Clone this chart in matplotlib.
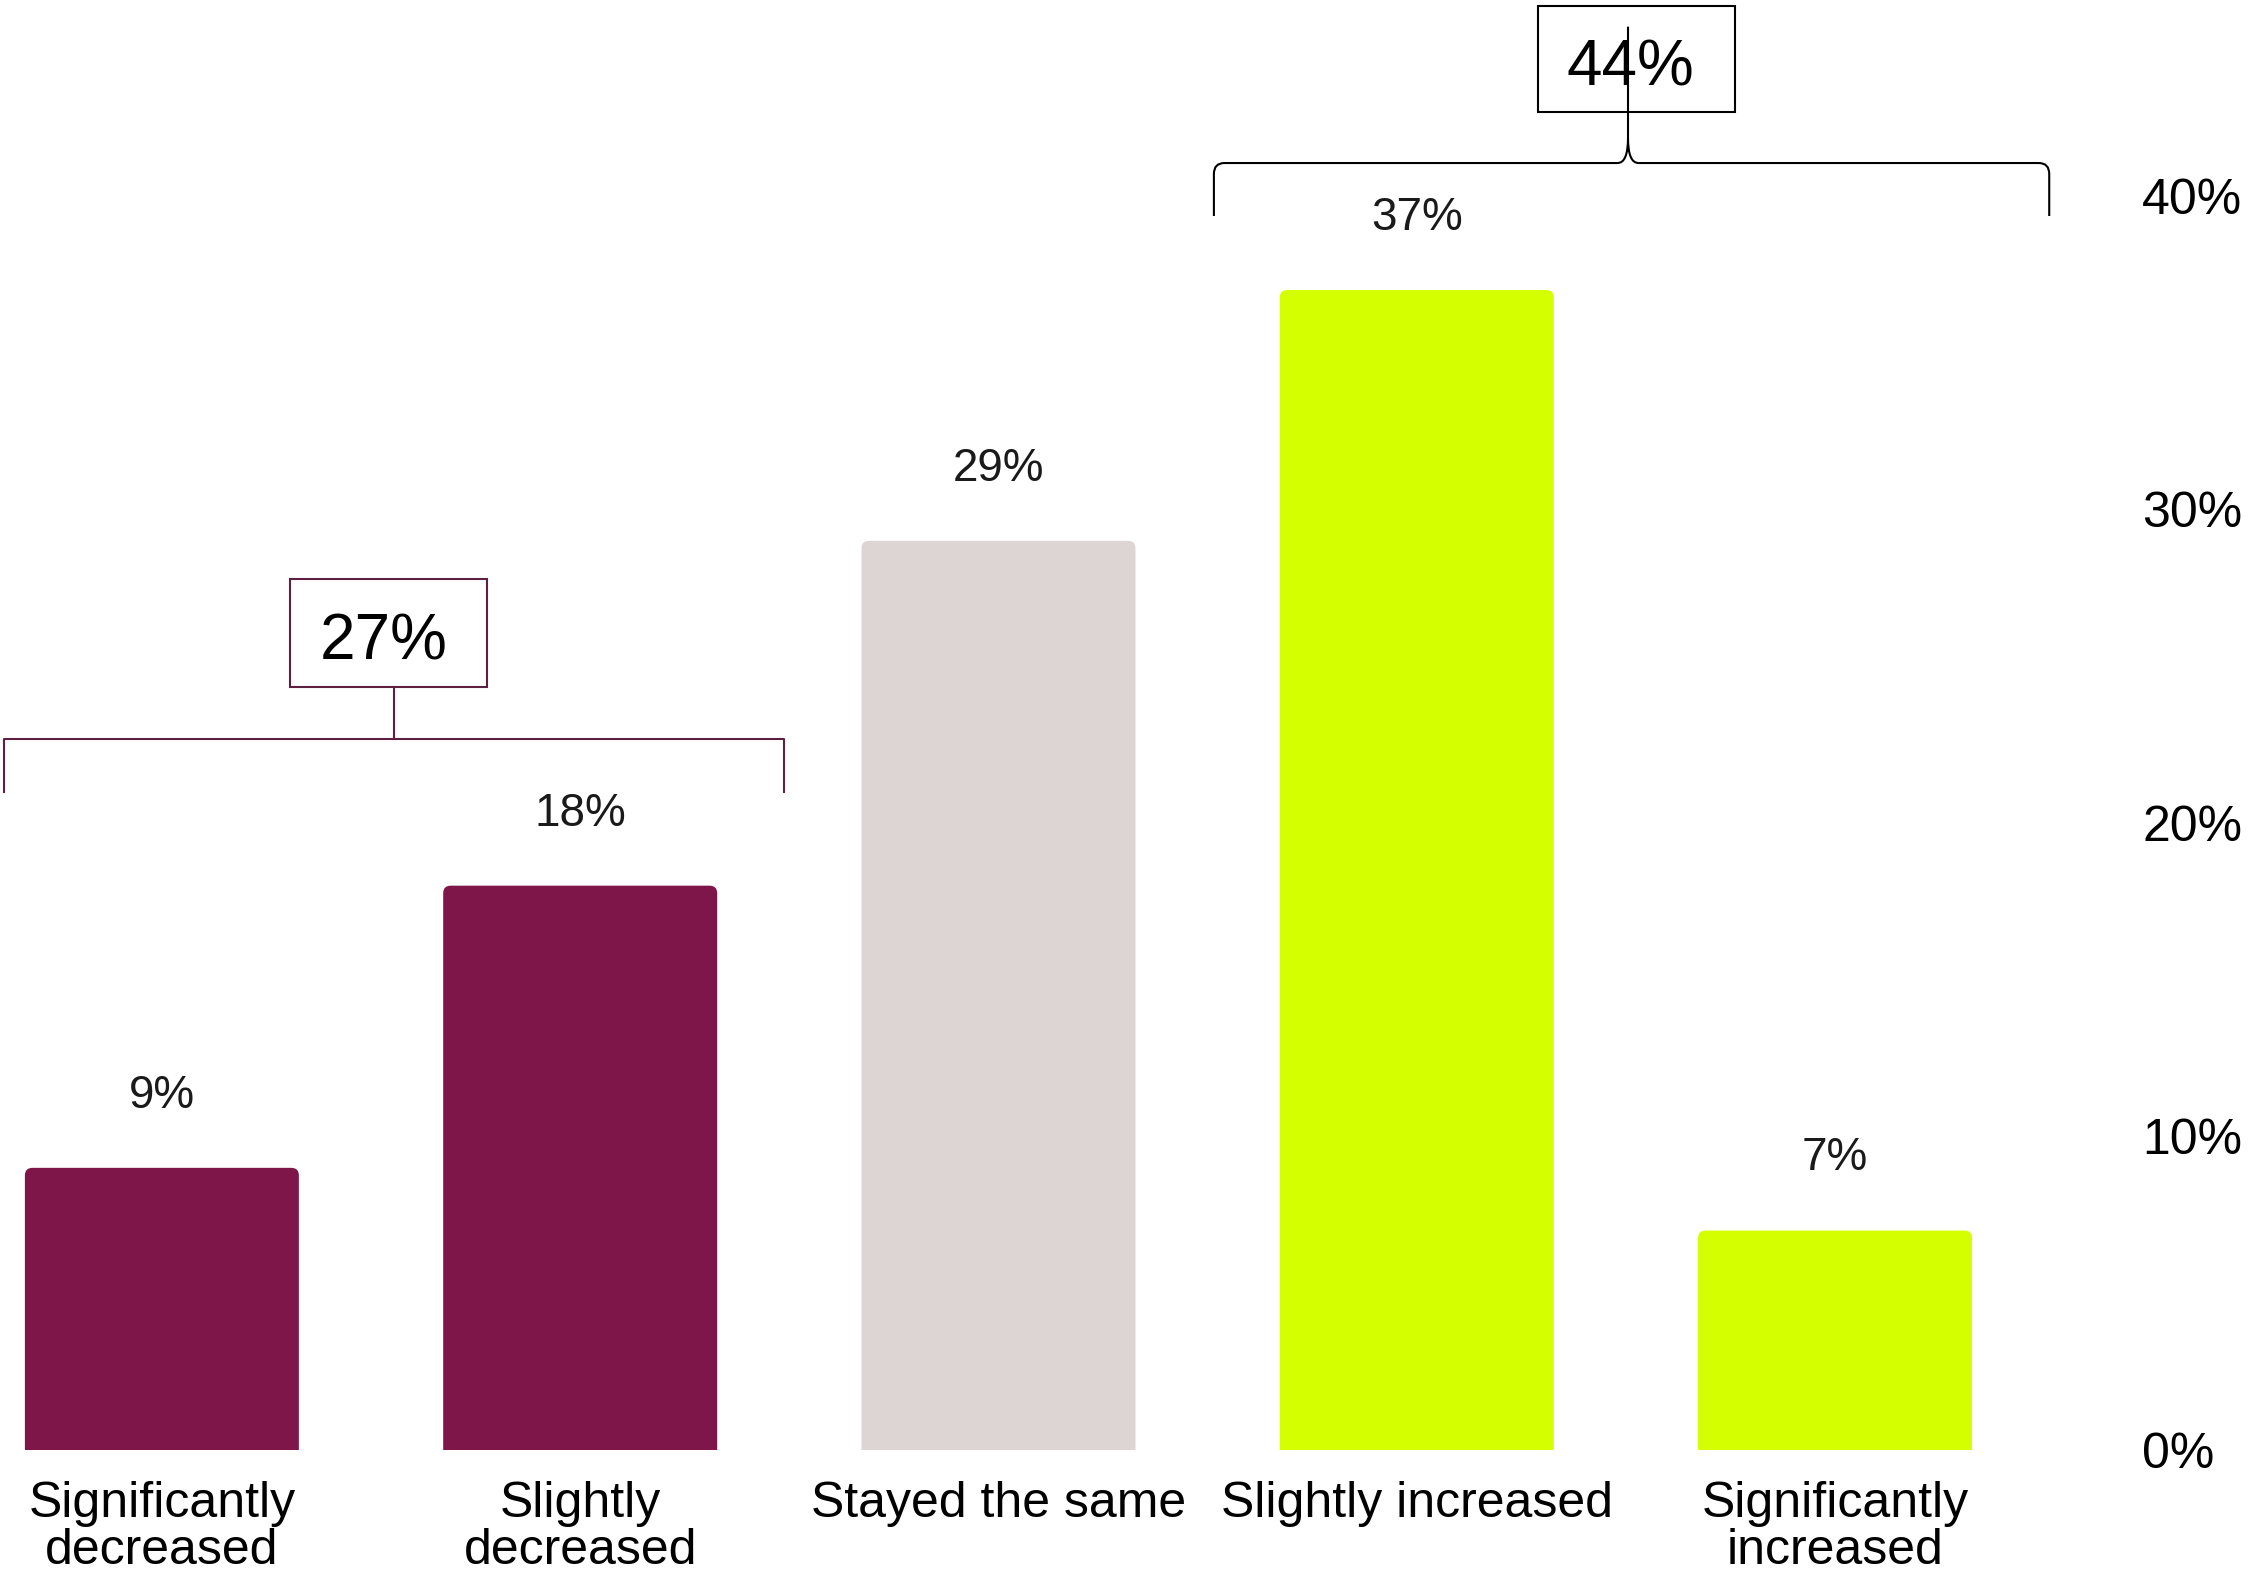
import matplotlib.pyplot as plt
from matplotlib.patches import Rectangle, PathPatch, FancyBboxPatch
from matplotlib.path import Path

plt.rcParams['font.family'] = ['Liberation Sans', 'DejaVu Sans']

# Data
categories = ["Significantly\ndecreased", "Slightly\ndecreased", "Stayed the same",
              "Slightly increased", "Significantly\nincreased"]
values = [9, 18, 29, 37, 7]
value_labels = ["9%", "18%", "29%", "37%", "7%"]
yticks = [0, 10, 20, 30, 40]
ytick_labels = ["0%", "10%", "20%", "30%", "40%"]
group_labels = ["27%", "44%"]

# Colors
purple = "#7f1649"
lime = "#d4ff00"
grey = "#ddd5d3"
bracket_purple = "#5e1f40"
bar_colors = [purple, purple, grey, lime, lime]

fig = plt.figure(figsize=(22.55, 15.79), dpi=100)
ax = fig.add_axes([0, 0.0817, 0.9401, 0.9183])

x = range(len(categories))
bars = ax.bar(x, values, width=0.655, color=bar_colors)

# swap plain bars for ones with slightly rounded tops (bottom hidden below axis)
for rect, c in zip(bars, bar_colors):
    rect.set_visible(False)
    ax.add_patch(FancyBboxPatch((rect.get_x(), -1), rect.get_width(), rect.get_height() + 1,
                                boxstyle="round,pad=0,rounding_size=0.018",
                                mutation_aspect=13.3, facecolor=c, edgecolor='none'))

# value labels above bars
for xi, v, lab in zip(x, values, value_labels):
    ax.text(xi, v + 2.3, lab, ha='center', va='center', fontsize=33, color='#1a1a1a')

ax.set_xlim(-0.387, 4.681)
ax.set_ylim(0, 46.25)
ax.set_xticks(list(x))
ax.set_xticklabels(categories, fontsize=36, linespacing=1.05)
ax.yaxis.tick_right()
ax.set_yticks(yticks)
ax.set_yticklabels(ytick_labels, fontsize=36)
ax.tick_params(axis='y', length=0, pad=16)
ax.tick_params(axis='x', length=0, pad=22)
for spine in ax.spines.values():
    spine.set_visible(False)
ax.grid(False)

# Left bracket (decreased group), square corners
lx0, lx1, lxc = -0.378, 1.487, 0.555
ax.plot([lx0, lx0, lx1, lx1], [20.99, 22.68, 22.68, 20.99], color=bracket_purple, lw=1.5)
ax.plot([lxc, lxc], [22.68, 24.34], color=bracket_purple, lw=1.5)
ax.add_patch(Rectangle((0.306, 24.34), 0.471, 3.44, fill=False,
                       edgecolor=bracket_purple, lw=1.5))
ax.text(0.53, 25.75, group_labels[0], ha='center', va='center', fontsize=46)

# Top curly bracket (increased group)
rx0, rx1, rxc = 2.515, 4.512, 3.505
yb, yh, ycusp = 39.36, 41.05, 41.5
dx, dy = 0.025, 0.35
verts = [
    (rx0, yb), (rx0, yh - dy), (rx0, yh), (rx0 + dx, yh),
    (rxc - dx, yh), (rxc, yh), (rxc, ycusp + dy),
    (rxc, 45.4),
    (rxc, ycusp + dy), (rxc, yh), (rxc + dx, yh),
    (rx1 - dx, yh), (rx1, yh), (rx1, yh - dy), (rx1, yb),
]
codes = [Path.MOVETO, Path.LINETO, Path.CURVE3, Path.CURVE3,
         Path.LINETO, Path.CURVE3, Path.CURVE3,
         Path.LINETO,
         Path.MOVETO, Path.CURVE3, Path.CURVE3,
         Path.LINETO, Path.CURVE3, Path.CURVE3, Path.LINETO]
ax.add_patch(Rectangle((3.29, 42.68), 0.47, 3.38, facecolor='white',
                       edgecolor='black', lw=1.5, zorder=3))
ax.text(3.51, 44.05, group_labels[1], ha='center', va='center', fontsize=46, zorder=4)
ax.add_patch(PathPatch(Path(verts, codes), fill=False, edgecolor='black', lw=1.5, zorder=5))

fig.savefig("out.png", dpi=100)
